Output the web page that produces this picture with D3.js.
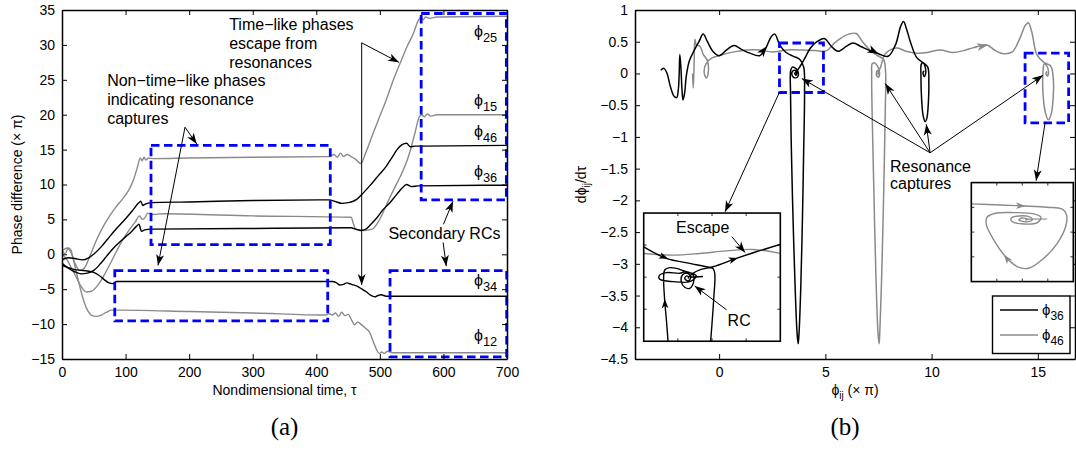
<!DOCTYPE html>
<html><head><meta charset="utf-8">
<script src="https://cdn.jsdelivr.net/npm/d3@7"></script>
<style>
body{margin:0;background:#fff}
svg{display:block;font-family:"Liberation Sans",Arial,Helvetica,sans-serif}
</style></head><body>
<svg id="c" width="1076" height="452"></svg>
<script>
// ================= DATA =================
// Panel (a): phase differences (x pi) vs nondimensional time tau
const tTicks = [0,100,200,300,400,500,600,700];
const phaseTicks = [-15,-10,-5,0,5,10,15,20,25,30,35];

const phi25 = [[0,0.5],[8,0.9],[14,0.3],[20,-1.2],[28,-2.3],[35,-2.0],[45,0],[55,2.2],[65,4.0],[75,5.5],[85,6.8],[95,7.9],[105,9.2],[113,10.8],[119,12.6],[123,13.8],[126,13.4],[129,13.9],[132,13.5],[136,13.8],[145,13.7],[200,13.8],[300,13.9],[420,14.0],[428,14.3],[433,13.9],[438,14.5],[443,14.0],[448,14.3],[455,14.0],[462,13.6],[470,13.0],[478,14.6],[490,17.5],[500,19.8],[510,22.1],[520,24.7],[532,27.4],[543,29.8],[553,31.7],[560,33.4],[564,33.9],[568,33.6],[572,34.0],[578,33.8],[590,34.0],[700,34.1]];
const phi15 = [[0,0],[8,-0.8],[15,-2.0],[22,-3.2],[30,-4.6],[38,-5.4],[46,-5.3],[55,-4.6],[65,-3.2],[75,-1.5],[85,0.3],[95,2.0],[105,3.4],[115,4.6],[122,5.5],[126,5.0],[130,5.2],[135,5.9],[142,5.7],[160,5.8],[300,5.5],[455,5.3],[458,4.5],[462,3.6],[475,3.4],[488,3.6],[495,4.3],[503,5.6],[513,7.6],[522,9.3],[532,11.1],[545,14.0],[555,17.3],[562,19.7],[566,20.0],[570,19.7],[575,20.1],[580,19.8],[590,20.0],[700,20.0]];
const phi12 = [[0,0.5],[5,0.1],[10,0.9],[14,0.6],[18,-0.8],[25,-3.5],[32,-6.0],[40,-8.0],[46,-8.7],[54,-8.9],[62,-8.7],[70,-8.3],[78,-8.0],[90,-8.0],[200,-8.2],[300,-8.4],[415,-8.7],[420,-8.5],[425,-8.7],[430,-8.4],[435,-8.9],[440,-8.3],[445,-8.8],[450,-8.6],[456,-9.5],[460,-10.1],[465,-9.7],[470,-10.0],[476,-10.5],[484,-11.2],[490,-12.6],[495,-13.7],[499,-14.2],[503,-14.0],[507,-14.2],[512,-13.9],[520,-14.1],[700,-14.1]];
const phi46 = [[0,-0.8],[10,-0.5],[20,-0.6],[32,-0.8],[42,-0.5],[52,0.2],[62,1.1],[72,2.2],[82,3.3],[92,4.3],[102,5.3],[112,6.4],[120,7.3],[124,7.6],[127,7.0],[131,7.2],[140,7.4],[200,7.5],[300,7.7],[420,7.8],[432,7.5],[440,7.3],[450,7.4],[458,7.6],[464,7.9],[474,8.8],[484,9.8],[497,11.2],[510,12.6],[520,14.0],[527,15.0],[535,15.7],[542,15.9],[548,15.4],[555,15.5],[565,15.5],[700,15.6]];
const phi36 = [[0,-1.3],[10,-2.0],[20,-2.5],[30,-2.8],[40,-2.7],[50,-2.3],[60,-1.4],[70,-0.3],[80,0.8],[90,1.7],[100,2.5],[110,3.3],[117,4.0],[121,4.3],[125,3.3],[130,3.5],[140,3.6],[300,3.7],[455,3.8],[462,3.6],[470,3.4],[478,3.6],[486,4.3],[495,5.2],[505,6.4],[515,7.3],[525,8.4],[535,9.5],[542,10.0],[550,9.7],[560,9.8],[700,9.9]];
const phi34 = [[0,-1.6],[10,-1.9],[20,-2.2],[30,-2.3],[40,-2.4],[50,-2.6],[58,-3.0],[66,-3.6],[74,-4.1],[80,-4.2],[86,-3.9],[100,-3.9],[300,-3.9],[425,-3.9],[432,-4.1],[437,-4.4],[443,-4.3],[448,-4.1],[455,-4.3],[465,-4.6],[472,-5.0],[479,-5.4],[486,-5.9],[492,-6.1],[497,-5.9],[502,-5.8],[510,-6.0],[700,-6.0]];

const seriesA = [
  {name:"25", data:phi25, color:"#8a8a8a"},
  {name:"15", data:phi15, color:"#8a8a8a"},
  {name:"12", data:phi12, color:"#8a8a8a"},
  {name:"46", data:phi46, color:"#000"},
  {name:"36", data:phi36, color:"#000"},
  {name:"34", data:phi34, color:"#000"}
];
// boxes in data units [t0,t1,v0,v1]
const boxesA = [[140,422,1.4,15.6],[83,418,-9.55,-2.35],[565,699,7.8,34.5],[516,699.5,-14.7,-2.35]];

// Panel (b): phase portraits  (phi_ij (x pi), dphi/dtau)
const phiTicksB = [0,5,10,15];
const rateTicksB = [1,0.5,0,-0.5,-1,-1.5,-2,-2.5,-3,-3.5,-4,-4.5];
const traj36 = [[-2.75,0.05],[-2.6,0.08],[-2.45,0.0],[-2.3,-0.2],[-2.12,-0.36],[-2.0,-0.38],[-1.92,-0.25],[-1.88,0.0],[-1.85,0.3],[-1.8,0.1],[-1.75,-0.25],[-1.7,-0.42],[-1.62,-0.3],[-1.55,-0.05],[-1.4,0.2],[-1.15,0.38],[-0.95,0.5],[-0.75,0.62],[-0.55,0.5],[-0.3,0.35],[0.0,0.28],[0.35,0.37],[0.7,0.44],[1.05,0.38],[1.45,0.32],[1.9,0.28],[2.2,0.4],[2.45,0.58],[2.62,0.62],[2.85,0.45],[3.15,0.33],[3.5,0.27],[3.8,0.22],[3.98,0.1],[4.02,-0.3],[3.98,-1.2],[3.92,-2.3],[3.84,-3.4],[3.76,-4.1],[3.72,-4.26],[3.67,-4.1],[3.58,-3.4],[3.48,-2.3],[3.4,-1.2],[3.36,-0.3],[3.37,0.05],[3.45,0.1],[3.6,0.08],[3.72,0.02],[3.68,-0.06],[3.5,-0.06],[3.42,0.0],[3.52,0.05],[3.65,0.02],[3.62,-0.03],[3.56,0.0],[3.6,0.02],[3.75,0.08],[4.0,0.22],[4.3,0.4],[4.6,0.5],[4.95,0.55],[5.3,0.42],[5.6,0.35],[6.0,0.43],[6.3,0.48],[6.7,0.42],[7.1,0.36],[7.5,0.31],[7.95,0.27],[8.3,0.45],[8.55,0.75],[8.68,0.82],[8.82,0.7],[9.0,0.5],[9.3,0.25],[9.6,0.17],[9.82,0.1],[9.87,-0.15],[9.85,-0.45],[9.78,-0.7],[9.7,-0.76],[9.6,-0.66],[9.53,-0.4],[9.5,-0.05],[9.52,0.15],[9.6,0.17],[9.7,0.1],[9.72,0.0],[9.65,-0.05],[9.6,0.02],[9.66,0.04]];
const traj46 = [[-1.25,0.0],[-1.22,-0.23],[-1.18,0.1],[-1.14,0.54],[-1.08,0.45],[-0.9,0.43],[-0.75,0.3],[-0.55,0.2],[-0.52,0.0],[-0.6,-0.07],[-0.7,0.0],[-0.62,0.15],[-0.35,0.24],[0.1,0.29],[0.7,0.34],[1.3,0.37],[1.9,0.37],[2.5,0.34],[3.2,0.37],[3.9,0.37],[4.5,0.36],[5.07,0.36],[5.4,0.47],[5.7,0.55],[6.1,0.62],[6.45,0.63],[6.75,0.5],[7.1,0.37],[7.42,0.29],[7.74,0.22],[7.83,0.05],[7.82,-0.6],[7.75,-1.8],[7.65,-3.2],[7.56,-4.1],[7.53,-4.26],[7.48,-4.1],[7.38,-3.2],[7.28,-1.8],[7.2,-0.6],[7.18,0.0],[7.2,0.15],[7.3,0.17],[7.45,0.12],[7.55,0.02],[7.5,-0.06],[7.4,-0.02],[7.45,0.05],[7.52,0.0],[7.47,-0.01],[7.6,0.1],[7.8,0.3],[8.1,0.38],[8.4,0.4],[8.8,0.35],[9.3,0.32],[9.8,0.33],[10.4,0.37],[11.0,0.33],[11.5,0.36],[12.0,0.41],[12.6,0.45],[13.0,0.36],[13.4,0.31],[13.8,0.34],[14.15,0.55],[14.4,0.75],[14.55,0.8],[14.72,0.65],[14.95,0.3],[15.3,0.17],[15.6,0.12],[15.72,-0.05],[15.72,-0.4],[15.62,-0.65],[15.49,-0.73],[15.36,-0.62],[15.25,-0.35],[15.24,0.0],[15.3,0.15],[15.42,0.12],[15.5,0.03],[15.45,-0.04],[15.38,0.0],[15.43,0.03]];
// direction arrows [v0,w0,v1,w1,color]
const dirArrowsB = [[2.02,0.33,2.25,0.43,"#000"],[7.2,0.36,7.5,0.31,"#000"],[12.35,0.43,12.65,0.45,"#8a8a8a"]];
const boxesB = [[2.84,4.91,-0.30,0.48],[14.4,16.45,-0.78,0.32]];

// inset 1 (zoom near first resonance), normalized units
const in1Gray = [[0,0.685],[0.215,0.672],[0.41,0.685],[0.605,0.705],[0.8,0.716],[1,0.685]];
const in1Entry = [[0,0.736],[0.166,0.646],[0.337,0.607],[0.459,0.581],[0.507,0.568],[0.52,0.53],[0.512,0.323],[0.49,0]];
const in1Capture = [[0.178,0],[0.166,0.168],[0.154,0.31],[0.146,0.504],[0.154,0.556],[0.19,0.574],[0.24,0.568],[0.288,0.55],[0.385,0.51],[0.337,0.465],[0.215,0.465],[0.117,0.483],[0.112,0.509],[0.166,0.535],[0.263,0.53],[0.312,0.543],[0.361,0.517],[0.366,0.465],[0.337,0.413],[0.3,0.421],[0.275,0.465],[0.283,0.517],[0.32,0.53],[0.345,0.5],[0.325,0.47],[0.3,0.49],[0.315,0.51],[0.33,0.5],[0.322,0.49]];
const in1Escape = [[0.33,0.5],[0.36,0.53],[0.42,0.56],[0.507,0.581],[0.678,0.646],[0.824,0.698],[1,0.755]];
const in1Tail = [[0.34,0.499],[0.434,0.505]];
const in1Arrows = [[0.12,0.668,0.18,0.643],[0.63,0.63,0.69,0.65],[0.156,0.26,0.154,0.33]];
// inset 2 (zoom near last resonance), normalized units
const in2Gray = [[0,0.785],[0.285,0.774],[0.515,0.764],[0.744,0.751],[0.892,0.731],[0.934,0.673],[0.925,0.556],[0.843,0.387],[0.711,0.236],[0.564,0.135],[0.449,0.152],[0.334,0.253],[0.22,0.421],[0.148,0.572],[0.154,0.65],[0.236,0.69],[0.416,0.697],[0.613,0.684],[0.682,0.65],[0.649,0.596],[0.515,0.582],[0.4,0.606],[0.39,0.64],[0.466,0.663],[0.58,0.65],[0.597,0.623],[0.531,0.603],[0.466,0.623],[0.498,0.643],[0.554,0.63],[0.53,0.62]];
const in2Tail = [[0.53,0.63],[0.744,0.632]];
const in2Arrows = [[0.45,0.767,0.53,0.764],[0.38,0.19,0.32,0.27]];

// ================= DRAW =================
const svg = d3.select("#c");
const A = {l:62, r:507, t:10, b:359};
const B = {l:635, r:1075, t:10, b:359};
const xA = d3.scaleLinear().domain([0,700]).range([A.l,A.r]);
const yA = d3.scaleLinear().domain([-15,35]).range([A.b,A.t]);
const xB = d3.scaleLinear().domain([-3.96,16.75]).range([B.l,B.r]);
const yB = d3.scaleLinear().domain([-4.5,1]).range([B.b,B.t]);
const minus = v => (v<0?"\u2212":"") + Math.abs(v);
const GRAY = "#8a8a8a";
const PHI = "\u03d5";

const defs = svg.append("defs");
function marker(id,color,sc){
  defs.append("marker").attr("id",id).attr("viewBox","-12 -6 14 12")
    .attr("refX",0).attr("refY",0).attr("markerWidth",14*sc).attr("markerHeight",12*sc)
    .attr("markerUnits","userSpaceOnUse").attr("orient","auto")
    .append("path").attr("d","M0,0 L-11,-4 L-8,0 L-11,4 Z").attr("fill",color);
}
marker("ak","#000",1); marker("ag",GRAY,1); marker("aks","#000",0.85); marker("ags",GRAY,0.85);
defs.append("clipPath").attr("id","clipA").append("rect").attr("x",A.l).attr("y",A.t).attr("width",A.r-A.l).attr("height",A.b-A.t);
defs.append("clipPath").attr("id","clipB").append("rect").attr("x",B.l).attr("y",B.t).attr("width",B.r-B.l).attr("height",B.b-B.t);

function axes(box,x,y,xt,yt,fmtY){
  const g = svg.append("g");
  g.append("g").attr("transform",`translate(0,${box.b})`)
    .call(d3.axisBottom(x).tickValues(xt).tickSizeInner(-5).tickSizeOuter(0).tickPadding(8).tickFormat(minus));
  g.append("g").attr("transform",`translate(0,${box.t})`)
    .call(d3.axisTop(x).tickValues(xt).tickSizeInner(-5).tickSizeOuter(0).tickFormat(""));
  g.append("g").attr("transform",`translate(${box.l},0)`)
    .call(d3.axisLeft(y).tickValues(yt).tickSizeInner(-5).tickSizeOuter(0).tickPadding(7).tickFormat(fmtY));
  g.append("g").attr("transform",`translate(${box.r},0)`)
    .call(d3.axisRight(y).tickValues(yt).tickSizeInner(-5).tickSizeOuter(0).tickFormat(""));
  g.selectAll(".domain").attr("stroke","#000").attr("stroke-width",1.5);
  g.selectAll(".tick line").attr("stroke","#000").attr("stroke-width",1);
  g.selectAll(".tick text").attr("font-size",14).attr("fill","#000").attr("font-family","Liberation Sans, Arial, sans-serif");
  return g;
}

// ---------- Panel (a) ----------
const pa = svg.append("g").attr("clip-path","url(#clipA)");
const lineA = d3.line().x(d=>xA(d[0])).y(d=>yA(d[1])).curve(d3.curveMonotoneX);
seriesA.forEach(s=>{
  pa.append("path").attr("d",lineA(s.data)).attr("fill","none").attr("stroke",s.color).attr("stroke-width",1.4);
});
boxesA.forEach(b=>{
  svg.append("rect").attr("x",xA(b[0])).attr("y",yA(b[3])).attr("width",xA(b[1])-xA(b[0])).attr("height",yA(b[2])-yA(b[3]))
    .attr("fill","none").attr("stroke","#0000ff").attr("stroke-width",2.8).attr("stroke-dasharray","8.5,4.5");
});
axes(A,xA,yA,tTicks,phaseTicks,minus);

function phiLabel(x,y,sub,size){
  const t = svg.append("text").attr("x",x).attr("y",y).attr("font-size",size).attr("fill","#000");
  t.append("tspan").text(PHI);
  t.append("tspan").attr("dy",5).attr("font-size",size*0.8).text(sub);
  return t;
}
// series labels (data positions)
[["25",31.1],["15",21.2],["46",16.8],["36",11.1],["34",-4.5],["12",-12.4]].forEach(d=>{
  phiLabel(xA(648),yA(d[1]),d[0],16);
});

function arrowLine(x1,y1,x2,y2,m){
  svg.append("line").attr("x1",x1).attr("y1",y1).attr("x2",x2).attr("y2",y2)
    .attr("stroke","#000").attr("stroke-width",1).attr("marker-end",`url(#${m||"ak"})`);
}
function multiText(x,y,lines,size,anchor){
  lines.forEach((l,i)=>svg.append("text").attr("x",x).attr("y",y+i*19).attr("font-size",size)
    .attr("text-anchor",anchor||"start").attr("fill","#000").text(l));
}
multiText(xA(263),29.5,["Time\u2212like phases","escape from","resonances"],16);
arrowLine(xA(471.4),yA(30.3),xA(530),yA(27.5));
arrowLine(xA(471.4),yA(30.3),xA(471.4),yA(-4.4));
multiText(xA(71),85.5,["Non\u2212time\u2212like phases","indicating resonance","captures"],16);
arrowLine(xA(193.5),yA(18.2),xA(212),yA(15.8));
arrowLine(xA(193.5),yA(18.2),xA(151),yA(-1.6));
svg.append("text").attr("x",xA(600)+1).attr("y",239).attr("font-size",16).attr("text-anchor","middle").text("Secondary RCs");
arrowLine(xA(599.5),yA(1.7),xA(604.5),yA(-1.7));
arrowLine(xA(600),yA(4.3),xA(615),yA(7.6));

svg.append("text").attr("x",(A.l+A.r)/2).attr("y",395).attr("font-size",14).attr("text-anchor","middle")
  .text("Nondimensional time, \u03c4");
svg.append("text").attr("transform",`translate(22,${(A.t+A.b)/2}) rotate(-90)`).attr("font-size",14)
  .attr("text-anchor","middle").text("Phase difference (\u00d7 \u03c0)");
svg.append("text").attr("x",(A.l+A.r)/2).attr("y",435).attr("font-size",25).attr("text-anchor","middle")
  .attr("font-family","Liberation Serif, Times New Roman, serif").text("(a)");

// ---------- Panel (b) ----------
const pb = svg.append("g").attr("clip-path","url(#clipB)");
const lineB = d3.line().x(d=>xB(d[0])).y(d=>yB(d[1])).curve(d3.curveCatmullRom.alpha(0.5));
pb.append("path").attr("d",lineB(traj46)).attr("fill","none").attr("stroke",GRAY).attr("stroke-width",1.5);
pb.append("path").attr("d",lineB(traj36)).attr("fill","none").attr("stroke","#000").attr("stroke-width",1.5);
dirArrowsB.forEach(a=>{
  pb.append("line").attr("x1",xB(a[0])).attr("y1",yB(a[1])).attr("x2",xB(a[2])).attr("y2",yB(a[3]))
    .attr("stroke","none").attr("marker-end",a[4]==="#000"?"url(#ak)":"url(#ag)");
});
boxesB.forEach(b=>{
  svg.append("rect").attr("x",xB(b[0])).attr("y",yB(b[3])).attr("width",xB(b[1])-xB(b[0])).attr("height",yB(b[2])-yB(b[3]))
    .attr("fill","none").attr("stroke","#0000ff").attr("stroke-width",2.8).attr("stroke-dasharray","8.5,4.5");
});
axes(B,xB,yB,phiTicksB,rateTicksB,minus);

// annotations
svg.append("text").attr("x",890).attr("y",171.5).attr("font-size",16).text("Resonance");
svg.append("text").attr("x",890).attr("y",189).attr("font-size",16).text("captures");
[[3.89,-0.08],[7.82,-0.16],[9.75,-0.8],[15.24,-0.03]].forEach(p=>{
  arrowLine(xB(9.93),yB(-1.25),xB(p[0]),yB(p[1]));
});
arrowLine(xB(2.82),yB(-0.31),xB(0.28),yB(-2.18));
arrowLine(xB(15.35),yB(-0.76),xB(14.92),yB(-1.69));

// insets
function inset(v0,v1,w0,w1){
  const x = d3.scaleLinear().domain([0,1]).range([xB(v0),xB(v1)]);
  const y = d3.scaleLinear().domain([0,1]).range([yB(w0),yB(w1)]);
  const g = svg.append("g");
  g.append("rect").attr("x",xB(v0)).attr("y",yB(w1)).attr("width",xB(v1)-xB(v0)).attr("height",yB(w0)-yB(w1))
    .attr("fill","#fff").attr("stroke","none");
  return {g,x,y};
}
function insetFrame(I){
  const [x0,x1]=I.x.range(), [y0,y1]=I.y.range();
  [0.25,0.5,0.75].forEach(f=>{
    const xx=I.x(f), yy=I.y(f);
    I.g.append("line").attr("x1",xx).attr("x2",xx).attr("y1",y0).attr("y2",y0-3).attr("stroke","#000").attr("stroke-width",0.8);
    I.g.append("line").attr("x1",xx).attr("x2",xx).attr("y1",y1).attr("y2",y1+3).attr("stroke","#000").attr("stroke-width",0.8);
    I.g.append("line").attr("x1",x0).attr("x2",x0+3).attr("y1",yy).attr("y2",yy).attr("stroke","#000").attr("stroke-width",0.8);
    I.g.append("line").attr("x1",x1).attr("x2",x1-3).attr("y1",yy).attr("y2",yy).attr("stroke","#000").attr("stroke-width",0.8);
  });
  I.g.append("rect").attr("x",x0).attr("y",y1).attr("width",x1-x0).attr("height",y0-y1)
    .attr("fill","none").attr("stroke","#000").attr("stroke-width",1.6);
}
const I1 = inset(-3.55,2.88,-4.22,-2.20);
const l1 = d3.line().x(d=>I1.x(d[0])).y(d=>I1.y(d[1])).curve(d3.curveCatmullRom.alpha(0.5));
I1.g.append("path").attr("d",l1(in1Gray)).attr("fill","none").attr("stroke",GRAY).attr("stroke-width",1.4);
[in1Entry,in1Capture,in1Escape,in1Tail].forEach(d=>{
  I1.g.append("path").attr("d",l1(d)).attr("fill","none").attr("stroke","#000").attr("stroke-width",1.4);
});
in1Arrows.forEach(a=>I1.g.append("line").attr("x1",I1.x(a[0])).attr("y1",I1.y(a[1])).attr("x2",I1.x(a[2])).attr("y2",I1.y(a[3])).attr("stroke","none").attr("marker-end","url(#aks)"));
insetFrame(I1);
I1.g.append("text").attr("x",I1.x(0.432)).attr("y",I1.y(0.843)).attr("font-size",16).attr("text-anchor","middle").text("Escape");
I1.g.append("line").attr("x1",I1.x(0.645)).attr("y1",I1.y(0.816)).attr("x2",I1.x(0.742)).attr("y2",I1.y(0.692)).attr("stroke","#000").attr("marker-end","url(#ak)");
I1.g.append("text").attr("x",I1.x(0.614)).attr("y",I1.y(0.122)).attr("font-size",16).text("RC");
I1.g.append("line").attr("x1",I1.x(0.607)).attr("y1",I1.y(0.245)).attr("x2",I1.x(0.373)).attr("y2",I1.y(0.431)).attr("stroke","#000").attr("marker-end","url(#ak)");

const I2 = inset(11.87,16.67,-3.28,-1.72);
const l2 = d3.line().x(d=>I2.x(d[0])).y(d=>I2.y(d[1])).curve(d3.curveCatmullRom.alpha(0.5));
I2.g.append("path").attr("d",l2(in2Gray)).attr("fill","none").attr("stroke",GRAY).attr("stroke-width",1.4);
I2.g.append("path").attr("d",l2(in2Tail)).attr("fill","none").attr("stroke",GRAY).attr("stroke-width",1.2);
in2Arrows.forEach(a=>I2.g.append("line").attr("x1",I2.x(a[0])).attr("y1",I2.y(a[1])).attr("x2",I2.x(a[2])).attr("y2",I2.y(a[3])).attr("stroke","none").attr("marker-end","url(#ags)"));
insetFrame(I2);

// legend
const lg = svg.append("g");
lg.append("rect").attr("x",992.5).attr("y",296).attr("width",77.5).attr("height",57.5).attr("fill","#fff").attr("stroke","#000").attr("stroke-width",1.4);
lg.append("line").attr("x1",1000).attr("x2",1038).attr("y1",310).attr("y2",310).attr("stroke","#000").attr("stroke-width",1.4);
lg.append("line").attr("x1",1000).attr("x2",1038).attr("y1",335).attr("y2",335).attr("stroke",GRAY).attr("stroke-width",1.4);
phiLabel(1042,315,"36",15);
phiLabel(1042,340,"46",15);

// labels
const xl = svg.append("text").attr("x",(B.l+B.r)/2).attr("y",395).attr("font-size",14).attr("text-anchor","middle");
xl.append("tspan").text(PHI);
xl.append("tspan").attr("dy",4).attr("font-size",10).text("ij");
xl.append("tspan").attr("dy",-4).text(" (\u00d7 \u03c0)");
const yl = svg.append("text").attr("transform",`translate(586,${(B.t+B.b)/2}) rotate(-90)`).attr("font-size",14).attr("text-anchor","middle");
yl.append("tspan").text("d" + PHI);
yl.append("tspan").attr("dy",4).attr("font-size",10).text("ij");
yl.append("tspan").attr("dy",-4).text("/d\u03c4");
svg.append("text").attr("x",(B.l+B.r)/2-10).attr("y",435).attr("font-size",25).attr("text-anchor","middle")
  .attr("font-family","Liberation Serif, Times New Roman, serif").text("(b)");
</script>
</body></html>
